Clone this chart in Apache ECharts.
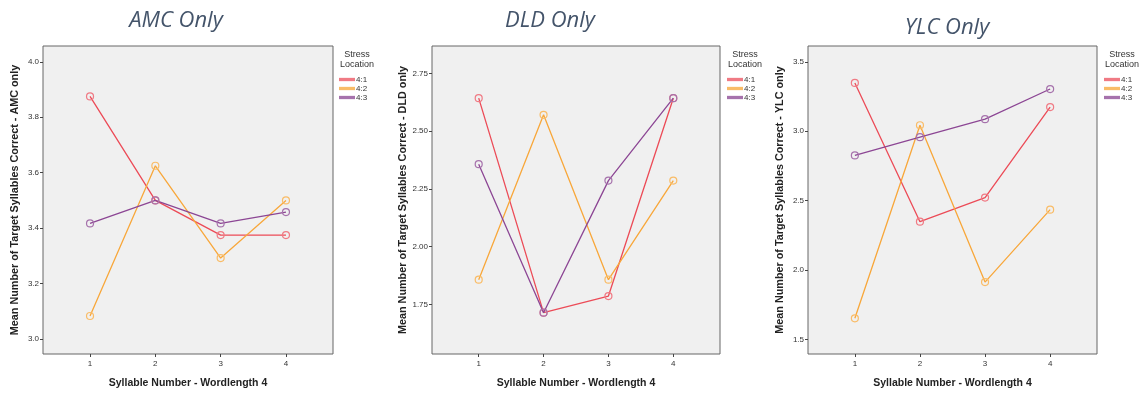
<!DOCTYPE html>
<html><head><meta charset="utf-8">
<script src="https://cdn.jsdelivr.net/npm/echarts@6/dist/echarts.min.js"></script>
<style>html,body{margin:0;padding:0;background:#fff}#c{width:1141px;height:394px}</style>
</head><body><div id="c"></div>
<script>
const syllables = [1, 2, 3, 4];
const stressLabels = ['4:1', '4:2', '4:3'];
const panelTitles = ['AMC Only', 'DLD Only', 'YLC Only'];
const yAxisNames = [
  'Mean Number of Target Syllables Correct - AMC only',
  'Mean Number of Target Syllables Correct - DLD only',
  'Mean Number of Target Syllables Correct - YLC only'
];
const xAxisName = 'Syllable Number - Wordlength 4';

const amc41 = [3.875, 3.5, 3.375, 3.375];
const amc42 = [3.083, 3.625, 3.292, 3.5];
const amc43 = [3.417, 3.5, 3.417, 3.458];

const dld41 = [2.643, 1.714, 1.786, 2.643];
const dld42 = [1.857, 2.571, 1.857, 2.286];
const dld43 = [2.357, 1.714, 2.286, 2.643];

const ylc41 = [3.348, 2.348, 2.522, 3.174];
const ylc42 = [1.652, 3.043, 1.913, 2.435];
const ylc43 = [2.826, 2.957, 3.087, 3.304];

const yTicksAMC = [3.0, 3.2, 3.4, 3.6, 3.8, 4.0];
const yTicksDLD = [1.75, 2.00, 2.25, 2.50, 2.75];
const yTicksYLC = [1.5, 2.0, 2.5, 3.0, 3.5];

const panelData = [[amc41, amc42, amc43], [dld41, dld42, dld43], [ylc41, ylc42, ylc43]];
const yTicks = [yTicksAMC, yTicksDLD, yTicksYLC];
const yRanges = [[2.946, 4.057], [1.535, 2.869], [1.395, 3.614]];
const tickDecimals = [1, 2, 1];

const lineColors = ['#EC4B57', '#F8A73A', '#8C4694'];
const markerColors = ['#F07A84', '#F9BC67', '#A672AC'];

const grids = [
  {left: 43, top: 46, width: 290, height: 311},
  {left: 432, top: 46, width: 288, height: 311},
  {left: 808, top: 46, width: 289, height: 311}
];
const titleCenters = [[171, 5], [545, 5], [942, 12]];
const legendLeft = [339, 727, 1104];

const chart = echarts.init(document.getElementById('c'));
const option = {
  backgroundColor: '#ffffff',
  animation: false,
  title: panelTitles.map((t, i) => ({
    text: t, left: titleCenters[i][0], top: titleCenters[i][1], textAlign: 'center',
    textStyle: {fontFamily: 'Open Sans', fontStyle: 'italic', fontWeight: 'normal', fontSize: 22, color: '#44546A'}
  })),
  grid: grids.map(g => Object.assign({show: true, backgroundColor: '#F0F0F0', borderColor: '#666', borderWidth: 1}, g)),
  xAxis: grids.map((g, i) => ({
    type: 'value', gridIndex: i, min: 0.28, max: 4.72,
    name: xAxisName, nameLocation: 'middle', nameGap: 24,
    nameTextStyle: {fontFamily: 'Arial, Liberation Sans', fontWeight: 'bold', fontSize: 10.5, color: '#222'},
    axisLine: {show: false}, splitLine: {show: false},
    axisTick: {show: true, length: 3, customValues: syllables, lineStyle: {color: '#444'}},
    axisLabel: {customValues: syllables, fontSize: 8, color: '#333', margin: 6, fontFamily: 'Arial, Liberation Sans'}
  })),
  yAxis: grids.map((g, i) => ({
    type: 'value', gridIndex: i, min: yRanges[i][0], max: yRanges[i][1],
    name: yAxisNames[i], nameLocation: 'middle', nameGap: 22, nameRotate: 90,
    nameTextStyle: {fontFamily: 'Arial, Liberation Sans', fontWeight: 'bold', fontSize: 10.8, color: '#222'},
    axisLine: {show: false}, splitLine: {show: false},
    axisTick: {show: true, length: 3, customValues: yTicks[i], lineStyle: {color: '#444'}},
    axisLabel: {customValues: yTicks[i], fontSize: 8, color: '#333', margin: 4, fontFamily: 'Arial, Liberation Sans',
      formatter: v => Number(v).toFixed(tickDecimals[i])}
  })),
  legend: legendLeft.map((l, i) => ({
    left: l, top: 75, orient: 'vertical', itemWidth: 14, itemHeight: 1.3, itemGap: 0,
    icon: 'rect',
    data: stressLabels.map((s, k) => ({name: s, itemStyle: {color: lineColors[k]}})),
    textStyle: {fontSize: 8, lineHeight: 9, color: '#333', padding: [0, 0, 0, -3], fontFamily: 'Arial, Liberation Sans'},
    selectedMode: false, padding: 0
  })),
  graphic: legendLeft.map(l => ({
    type: 'text', x: l + 18, y: 50,
    style: {text: 'Stress\nLocation', fontSize: 9, fill: '#333', align: 'center', verticalAlign: 'top', lineHeight: 10, fontFamily: 'Arial, Liberation Sans'}
  })),
  series: []
};
panelData.forEach((sets, i) => {
  sets.forEach((vals, k) => {
    option.series.push({
      type: 'line', name: stressLabels[k], xAxisIndex: i, yAxisIndex: i,
      data: syllables.map((x, j) => [x, vals[j]]),
      symbol: 'circle', symbolSize: 7, showSymbol: true,
      lineStyle: {color: lineColors[k], width: 1.3},
      itemStyle: {color: 'rgba(0,0,0,0)', borderColor: markerColors[k], borderWidth: 1.2},
      emphasis: {disabled: true}
    });
  });
});
chart.setOption(option);
</script></body></html>
